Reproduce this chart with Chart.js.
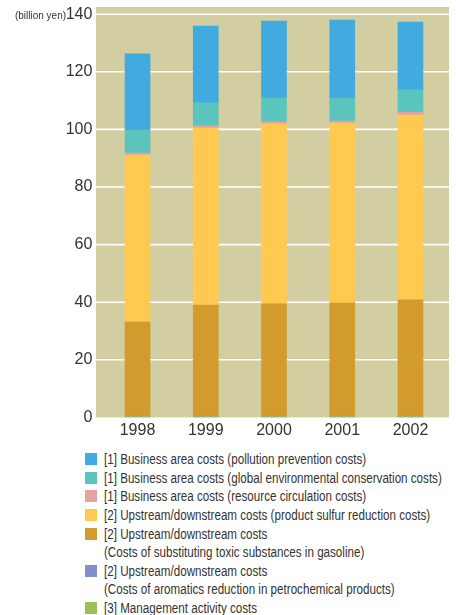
<!DOCTYPE html>
<html>
<head>
<meta charset="utf-8">
<script src="https://cdn.jsdelivr.net/npm/chart.js@4.4.1/dist/chart.umd.min.js"></script>
<style>
  html, body { margin: 0; padding: 0; background: #ffffff; }
  body { width: 456px; height: 615px; position: relative; overflow: hidden; }
  #wrap { position: absolute; left: 0; top: 0; width: 456px; height: 440px; }
  #legend { position: absolute; left: 85px; top: 450px; font-family: "Liberation Sans", Arial, sans-serif; font-size: 14px; color: #333; }
  .row { display: flex; align-items: center; height: 18.6px; white-space: nowrap; }
  .box { width: 12px; height: 12px; margin-right: 7px; flex: none; }
  .txt { display: inline-block; transform: scaleX(0.83); transform-origin: 0 50%; }
  .cont { padding-left: 19px; }
</style>
</head>
<body>
<div id="wrap"><canvas id="c" width="456" height="440"></canvas></div>
<div id="legend"></div>
<script>
// ---- data ----
const years = ["1998", "1999", "2000", "2001", "2002"];
const yTicks = [0, 20, 40, 60, 80, 100, 120, 140];
const unitLabel = "(billion yen)";

// series, stacked bottom to top
const management      = [0.3, 0.3, 0.3, 0.3, 0.3];
const aromatics       = [0.2, 0.2, 0.2, 0.2, 0.2];
const toxicGasoline   = [32.6, 38.5, 38.9, 39.2, 40.3];
const sulfurReduction = [58.0, 61.5, 62.5, 62.5, 64.2];
const resourceCirc    = [0.7, 0.7, 0.7, 0.7, 1.0];
const globalEnv       = [8.0, 8.0, 8.3, 8.0, 7.7];
const pollution       = [26.4, 26.7, 26.7, 27.1, 23.6];

// legend labels (top to bottom order as shown)
const labelPollution = ["[1] Business area costs (pollution prevention costs)"];
const labelGlobal    = ["[1] Business area costs (global environmental conservation costs)"];
const labelResource  = ["[1] Business area costs (resource circulation costs)"];
const labelSulfur    = ["[2] Upstream/downstream costs (product sulfur reduction costs)"];
const labelToxic     = ["[2] Upstream/downstream costs", "(Costs of substituting toxic substances in gasoline)"];
const labelAromatics = ["[2] Upstream/downstream costs", "(Costs of aromatics reduction in petrochemical products)"];
const labelMgmt      = ["[3] Management activity costs"];

const series = [
  { label: labelMgmt,      data: management,      color: "#9DBF55" },
  { label: labelAromatics, data: aromatics,       color: "#8190C8" },
  { label: labelToxic,     data: toxicGasoline,   color: "#D39B2E" },
  { label: labelSulfur,    data: sulfurReduction, color: "#FFCA4F" },
  { label: labelResource,  data: resourceCirc,    color: "#E4A59E" },
  { label: labelGlobal,    data: globalEnv,       color: "#5BC5BD" },
  { label: labelPollution, data: pollution,       color: "#41ABE0" }
];

// ---- legend (HTML) ----
const legendEl = document.getElementById("legend");
series.slice().reverse().forEach(s => {
  s.label.forEach((line, i) => {
    const row = document.createElement("div");
    row.className = "row" + (i > 0 ? " cont" : "");
    if (i === 0) {
      const b = document.createElement("span");
      b.className = "box";
      b.style.background = s.color;
      row.appendChild(b);
    }
    const t = document.createElement("span");
    t.className = "txt";
    t.textContent = line;
    row.appendChild(t);
    legendEl.appendChild(row);
  });
});

// ---- plot background + grid ----
const bgGrid = {
  id: "bgGrid",
  beforeDatasetsDraw(chart) {
    const { ctx, chartArea, scales } = chart;
    const left = chartArea.left - 7.4, right = chartArea.right + 4.4;
    const top = chartArea.top - 7.2;
    ctx.save();
    ctx.fillStyle = "#D3CDA2";
    ctx.fillRect(left, top, right - left, chartArea.bottom - top);
    ctx.strokeStyle = "#ffffff";
    ctx.lineWidth = 1.6;
    yTicks.forEach(v => {
      if (v === 0) return;
      const y = scales.y.getPixelForValue(v);
      ctx.beginPath();
      ctx.moveTo(left, y);
      ctx.lineTo(right, y);
      ctx.stroke();
    });
    // unit label
    ctx.fillStyle = "#333";
    ctx.font = '11px "Liberation Sans", Arial, sans-serif';
    ctx.textAlign = "left";
    ctx.textBaseline = "middle";
    ctx.fillText(unitLabel, 15, scales.y.getPixelForValue(140) + 1.5, 51);
    ctx.restore();
  }
};

new Chart(document.getElementById("c"), {
  type: "bar",
  data: {
    labels: years,
    datasets: series.map(s => ({
      label: s.label.join(" "),
      data: s.data,
      backgroundColor: s.color,
      borderWidth: 0,
      barThickness: 25
    }))
  },
  options: {
    responsive: false,
    animation: false,
    devicePixelRatio: 1,
    layout: { padding: { top: 14.2, right: 11.4, left: 0, bottom: 0 } },
    plugins: { legend: { display: false }, tooltip: { enabled: false }, title: { display: false } },
    scales: {
      x: {
        stacked: true,
        grid: { display: false, drawTicks: false },
        border: { display: false },
        ticks: { color: "#333", font: { family: '"Liberation Sans", Arial, sans-serif', size: 16 }, padding: 4 },
        afterFit(scale) { scale.height = 22.6; scale.paddingLeft = 0; scale.paddingRight = 0; }
      },
      y: {
        stacked: true,
        min: 0, max: 140,
        grid: { display: false, drawTicks: false },
        border: { display: false },
        ticks: {
          stepSize: 20,
          color: "#333",
          padding: 11,
          font: { family: '"Liberation Sans", Arial, sans-serif', size: 16 },
          callback: (v) => yTicks.includes(v) ? String(v) : ""
        },
        afterFit(scale) { scale.width = 103.4; scale.paddingTop = 0; scale.paddingBottom = 0; }
      }
    }
  },
  plugins: [bgGrid]
});
</script>
</body>
</html>
